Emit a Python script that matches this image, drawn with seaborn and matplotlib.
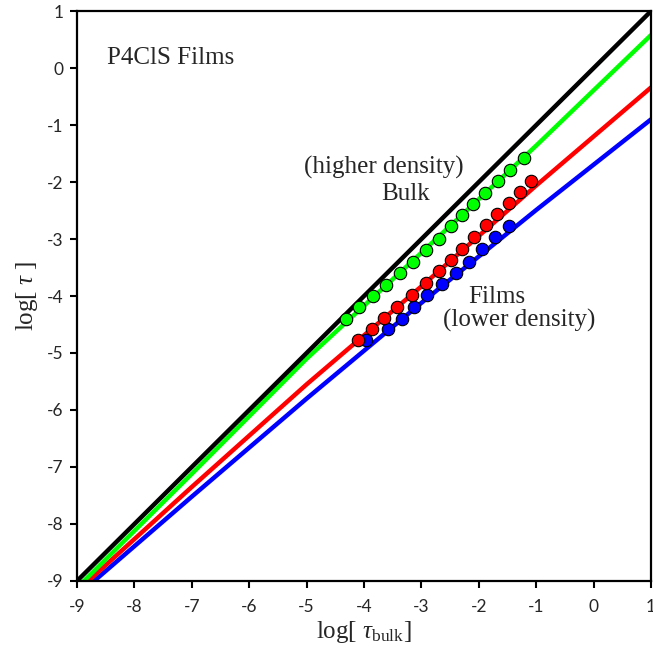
import matplotlib
matplotlib.use("Agg")
import matplotlib.pyplot as plt
import seaborn as sns
import pandas as pd

# ---- data ----
line_x = [-9, -7, -5, -3, -1, 1]
bulk_line = [-9, -7, -5, -3, -1, 1]
green_line = [-9.12, -7.12, -5.10, -3.24, -1.36, 0.58]
red_line = [-9.18, -7.35, -5.55, -3.83, -2.06, -0.34]
blue_line = [-9.26, -7.52, -5.80, -4.12, -2.49, -0.90]

green_x = [-4.32, -4.08, -3.85, -3.61, -3.38, -3.15, -2.92, -2.70, -2.49, -2.30, -2.11, -1.90, -1.66, -1.46, -1.21]
green_y = [-4.40, -4.20, -4.00, -3.80, -3.60, -3.40, -3.20, -3.00, -2.78, -2.57, -2.38, -2.19, -1.99, -1.78, -1.57]

red_x = [-4.10, -3.87, -3.65, -3.42, -3.16, -2.92, -2.69, -2.49, -2.29, -2.08, -1.88, -1.68, -1.47, -1.28, -1.10]
red_y = [-4.78, -4.58, -4.38, -4.19, -3.98, -3.77, -3.56, -3.37, -3.18, -2.97, -2.76, -2.56, -2.37, -2.17, -1.98]

blue_x = [-3.97, -3.58, -3.34, -3.13, -2.90, -2.65, -2.40, -2.17, -1.95, -1.72, -1.47]
blue_y = [-4.78, -4.58, -4.41, -4.19, -3.98, -3.79, -3.60, -3.40, -3.18, -2.97, -2.78]

ticks = [-9, -8, -7, -6, -5, -4, -3, -2, -1, 0, 1]
tick_labels = [str(t) for t in ticks]

GREEN = "#00ff00"
RED = "#ff0000"
BLUE = "#0000ff"

sns.set_style("white")
plt.rcParams["font.family"] = ["Lato", "DejaVu Sans"]
plt.rcParams["mathtext.fontset"] = "custom"
plt.rcParams["mathtext.rm"] = "Liberation Serif"
plt.rcParams["mathtext.it"] = "Liberation Serif:italic"

fig = plt.figure(figsize=(6.53, 6.52), dpi=100)
ax = fig.add_axes([0.118, 0.109, 0.879, 0.874])

lines = pd.DataFrame({"x": line_x, "bulk": bulk_line, "g": green_line, "r": red_line, "b": blue_line})
for col, c in [("b", BLUE), ("r", RED), ("g", GREEN), ("bulk", "black")]:
    sns.lineplot(data=lines, x="x", y=col, color=c, lw=3.2, ax=ax, zorder=2)

for xs, ys, c in [(green_x, green_y, GREEN), (blue_x, blue_y, BLUE), (red_x, red_y, RED)]:
    sns.scatterplot(x=xs, y=ys, color=c, s=80, edgecolor="black", linewidth=0.8, ax=ax, zorder=3)

ax.set_xlim(-9, 1)
ax.set_ylim(-9, 1)
ax.set_xticks(ticks)
ax.set_xticklabels(tick_labels)
ax.set_yticks(ticks)
ax.set_yticklabels(tick_labels)
ax.tick_params(axis="both", direction="out", length=5, width=1.5, color="black",
               labelsize=12.5, pad=5, bottom=True, left=True)
ax.tick_params(axis="x", pad=8)
for s in ax.spines.values():
    s.set_color("black")
    s.set_linewidth(1.6)

serif = "Liberation Serif"
ax.set_xlabel(r"log[ $\tau_{\rm bulk}$]", fontsize=18, family=serif, labelpad=3)
ax.set_ylabel(r"log[ $\tau$ ]", fontsize=18, family=serif, labelpad=5)

ax.text(-8.48, 0.08, "P4ClS Films", fontsize=18, family=serif, ha="left", va="baseline")
ax.text(-3.65, -1.86, "(higher density)", fontsize=18, family=serif, ha="center", va="baseline")
ax.text(-3.27, -2.32, "Bulk", fontsize=18, family=serif, ha="center", va="baseline")
ax.text(-1.69, -4.12, "Films", fontsize=18, family=serif, ha="center", va="baseline")
ax.text(-1.30, -4.54, "(lower density)", fontsize=18, family=serif, ha="center", va="baseline")

fig.savefig("out.png", dpi=100)
